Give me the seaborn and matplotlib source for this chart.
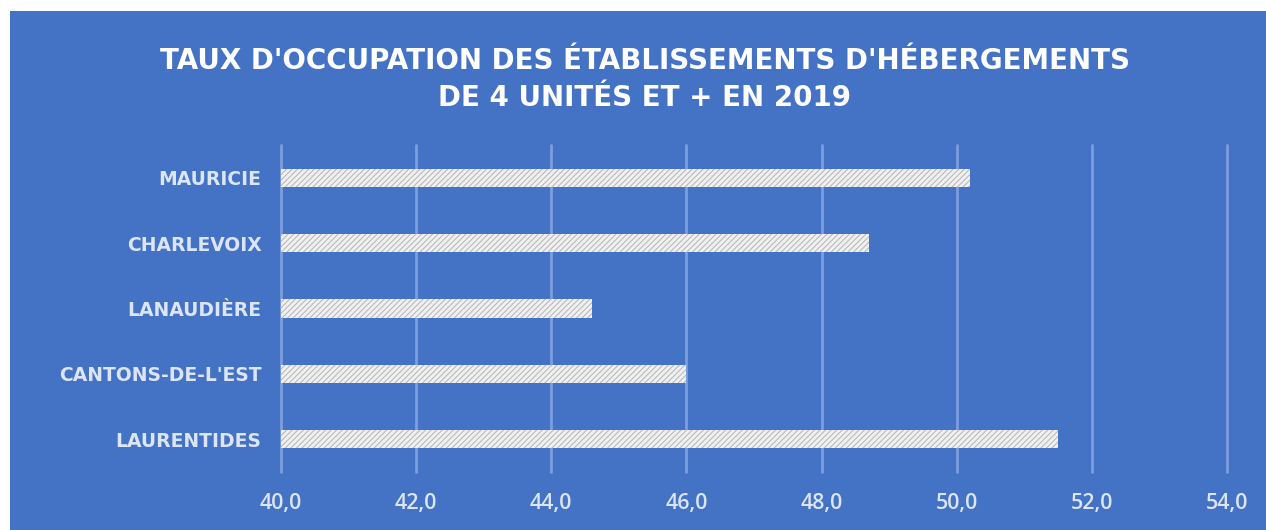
import numpy as np
import pandas as pd
import matplotlib.pyplot as plt
import seaborn as sns
from matplotlib.patches import Rectangle
from matplotlib.ticker import FuncFormatter

# data
regions = ["MAURICIE", "CHARLEVOIX", "LANAUDIÈRE", "CANTONS-DE-L'EST", "LAURENTIDES"]
taux = [50.2, 48.7, 44.6, 46.0, 51.5]
x_ticks = [40, 42, 44, 46, 48, 50, 52, 54]

BLUE = "#4472C4"
GRID = "#7C9EDD"
LABEL = "#DCE5F5"

sns.set_theme(style="white")
plt.rcParams["font.family"] = ["Open Sans", "DejaVu Sans"]
plt.rcParams["hatch.linewidth"] = 0.7

df = pd.DataFrame({"region": regions, "taux": taux})

fig = plt.figure(figsize=(12.66, 5.3), dpi=100, facecolor="white")
# blue chart panel with the thin white margin on top/left
fig.patches.append(Rectangle((10 / 1266, 0), 1 - 10 / 1266, 1 - 11 / 530,
                             transform=fig.transFigure, facecolor=BLUE,
                             edgecolor="none", zorder=-5))

ax = fig.add_axes([281 / 1266, 1 - 472 / 530, (1227 - 281) / 1266, (472 - 145) / 530])
ax.set_facecolor("none")
ax.set_zorder(2)

sns.barplot(data=df, x="taux", y="region", orient="h", ax=ax,
            color="#F0F0F0", width=0.28)
# hatched fill like the original
for p in ax.patches:
    p.set_hatch("//////")
    p.set_edgecolor("#B4B4B4")
    p.set_linewidth(0)

ax.set_xlim(40, 54)
ax.set_ylim(4.5, -0.5)
ax.set_xticks(x_ticks)
ax.xaxis.set_major_formatter(FuncFormatter(lambda v, _: f"{v:.1f}".replace(".", ",")))
ax.grid(axis="x", color=GRID, linewidth=2)
for gl in ax.get_xgridlines():
    gl.set_clip_on(False)
ax.set_axisbelow(True)
for s in ax.spines.values():
    s.set_visible(False)
ax.tick_params(axis="x", length=0, pad=15, labelsize=15.5, labelcolor=LABEL)
ax.tick_params(axis="y", length=0, pad=14, labelsize=13.5, labelcolor=LABEL)
for t in ax.get_xticklabels():
    t.set_fontweight("semibold")
for t in ax.get_yticklabels():
    t.set_fontweight("bold")
    t.set_fontfamily("DejaVu Sans")
ax.set_xlabel("")
ax.set_ylabel("")

fig.text(645 / 1266, 1 - 61 / 530, "TAUX D'OCCUPATION DES ÉTABLISSEMENTS D'HÉBERGEMENTS",
         ha="center", va="center", color="white", fontsize=20, fontweight="bold",
         family="DejaVu Sans")
fig.text(645 / 1266, 1 - 98 / 530, "DE 4 UNITÉS ET + EN 2019",
         ha="center", va="center", color="white", fontsize=20, fontweight="bold",
         family="DejaVu Sans")

fig.savefig("out.png", dpi=100, facecolor="white")
